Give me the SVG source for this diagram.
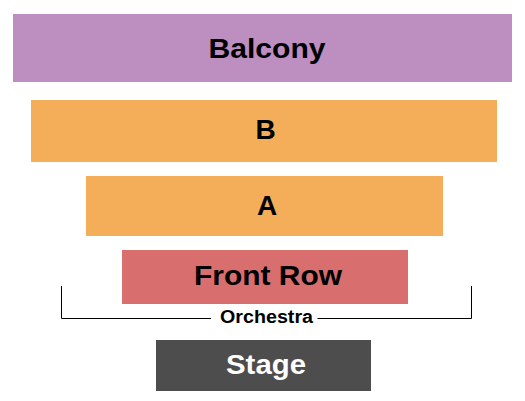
<svg xmlns="http://www.w3.org/2000/svg" width="525" height="401" viewBox="0 0 525 401">
<style>
text{font-family:"Liberation Sans",Arial,sans-serif;font-weight:bold;text-anchor:middle}
.lbl{font-size:28px;fill:#000}
.orange{fill:#F4AE5A}
</style>
<rect width="525" height="401" fill="#fff"/>
<g id="balcony"><rect x="13" y="14" width="499" height="68" fill="#BD8FC1"/><text class="lbl" x="267" y="57.5" textLength="117" lengthAdjust="spacingAndGlyphs">Balcony</text></g>
<g id="b"><rect class="orange" x="31" y="100" width="466" height="62"/><text class="lbl" x="265.5" y="139">B</text></g>
<g id="a"><rect class="orange" x="86" y="176" width="357" height="60"/><text class="lbl" x="267" y="214.7">A</text></g>
<g id="front-row"><rect x="122" y="250" width="286" height="54" fill="#D86F6E"/><text class="lbl" x="268" y="285.3" textLength="148" lengthAdjust="spacingAndGlyphs">Front Row</text></g>
<g id="connectors"><path d="M61.5 286V318.5H211M317.5 318.5H471.5V286" fill="none" stroke="#000" stroke-width="1"/></g>
<g id="orchestra"><text x="266.5" y="323.3" style="font-size:18px" textLength="93" lengthAdjust="spacingAndGlyphs">Orchestra</text></g>
<g id="stage"><rect x="156" y="340" width="215" height="51" fill="#4D4D4D"/><text class="lbl" x="266" y="374" style="fill:#fff" textLength="80" lengthAdjust="spacingAndGlyphs">Stage</text></g>
</svg>
